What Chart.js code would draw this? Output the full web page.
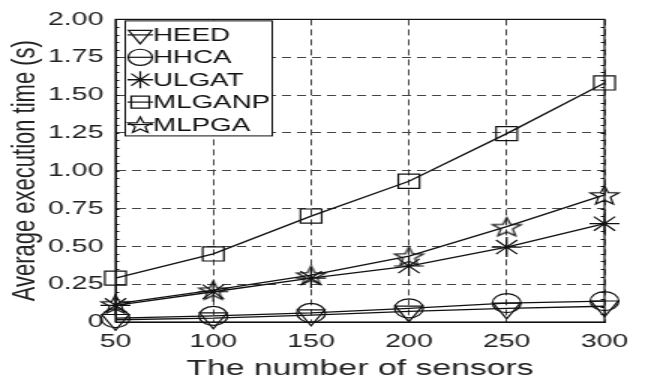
<!DOCTYPE html>
<html>
<head>
<meta charset="utf-8">
<script src="https://cdn.jsdelivr.net/npm/chart.js@4.4.1/dist/chart.umd.min.js"></script>
<style>
  html, body { margin: 0; padding: 0; background: #fff; overflow: hidden; }
  #wrap { width: 430px; height: 382px; transform: scaleX(1.5); transform-origin: 0 0; }
</style>
</head>
<body>
<div id="wrap"><canvas id="c" width="430" height="382"></canvas></div>
<script>
// ---- data ----
const sensors = [50, 100, 150, 200, 250, 300];
const heed   = [0.015, 0.025, 0.045, 0.07, 0.09, 0.104];
const hhca   = [0.025, 0.04, 0.06, 0.09, 0.125, 0.138];
const ulgat  = [0.11, 0.20, 0.29, 0.37, 0.495, 0.65];
const mlganp = [0.29, 0.45, 0.70, 0.93, 1.245, 1.58];
const mlpga  = [0.12, 0.21, 0.31, 0.435, 0.63, 0.84];
const seriesNames = ['HEED', 'HHCA', 'ULGAT', 'MLGANP', 'MLPGA'];
const yTicks = [0, 0.25, 0.5, 0.75, 1.0, 1.25, 1.5, 1.75, 2.0];

const FONT = "'Liberation Sans', Arial, Helvetica, sans-serif";
const INK = '#111';

function starImage(r, lw) {
  const s = Math.ceil(2 * r + 4);
  const c = document.createElement('canvas');
  c.width = s; c.height = s;
  const g = c.getContext('2d');
  g.strokeStyle = INK; g.lineWidth = lw; g.lineJoin = 'miter';
  g.beginPath();
  for (let i = 0; i < 10; i++) {
    const a = -Math.PI / 2 + i * Math.PI / 5;
    const rr = (i % 2) ? r * 0.42 : r;
    const x = s / 2 + Math.cos(a) * rr, y = s / 2 + 1 + Math.sin(a) * rr;
    if (i === 0) g.moveTo(x, y); else g.lineTo(x, y);
  }
  g.closePath(); g.stroke();
  return c;
}
const starPlot = starImage(10, 1.2);
const starLegend = starImage(8.5, 1.2);

const styles = [
  { pointStyle: 'triangle', rotation: 180, radius: 10.5 },
  { pointStyle: 'circle', rotation: 0, radius: 9.5 },
  { pointStyle: 'star', rotation: 0, radius: 10 },
  { pointStyle: 'rect', rotation: 0, radius: 10 },
  { pointStyle: starPlot, rotation: 0, radius: 10 }
];
const seriesData = [heed, hhca, ulgat, mlganp, mlpga];

const datasets = seriesData.map((d, i) => ({
  label: seriesNames[i],
  data: d,
  borderColor: INK,
  borderWidth: 1.3,
  backgroundColor: 'rgba(0,0,0,0)',
  pointStyle: styles[i].pointStyle,
  pointRotation: styles[i].rotation,
  pointRadius: styles[i].radius,
  pointHoverRadius: styles[i].radius,
  pointBorderColor: INK,
  pointBackgroundColor: 'rgba(0,0,0,0)',
  pointBorderWidth: 1.2,
  tension: 0,
  fill: false,
  clip: false
}));

// frame, minor ticks and legend
const decor = {
  id: 'decor',
  afterDraw(chart) {
    const { ctx, chartArea: a, scales } = chart;
    const ys = scales.y;
    ctx.save();
    ctx.strokeStyle = INK; ctx.lineWidth = 1.2; ctx.setLineDash([]);
    ctx.strokeRect(a.left, a.top, a.right - a.left, a.bottom - a.top);
    ctx.lineWidth = 1;
    ctx.beginPath();
    for (let k = 0; k <= 40; k++) {
      const v = k * 0.05;
      const py = Math.round(ys.getPixelForValue(v)) + 0.5;
      ctx.moveTo(a.left, py); ctx.lineTo(a.left + 2.5, py);
      ctx.moveTo(a.right, py); ctx.lineTo(a.right - 2.5, py);
    }
    ctx.stroke();
    // legend
    const bx = a.left + 6, by = a.top + 1, bw = 98, bh = 115;
    ctx.fillStyle = '#fff';
    ctx.fillRect(bx, by, bw, bh);
    ctx.strokeStyle = INK; ctx.lineWidth = 1;
    ctx.strokeRect(bx + 0.5, by + 0.5, bw, bh);
    ctx.font = '18.5px ' + FONT;
    ctx.textBaseline = 'middle';
    ctx.textAlign = 'left';
    const mx = bx + 10.5;
    for (let i = 0; i < seriesNames.length; i++) {
      const cy = by + 14.5 + i * 22.4;
      ctx.strokeStyle = INK; ctx.lineWidth = 1.2;
      ctx.beginPath(); ctx.moveTo(mx - 8.5, cy); ctx.lineTo(mx + 8.5, cy); ctx.stroke();
      drawMarker(ctx, i, mx, cy, 0.85);
      ctx.fillStyle = INK;
      ctx.fillText(seriesNames[i], bx + 19, cy + 1);
    }
    ctx.restore();
  }
};

function drawMarker(ctx, i, x, y, f) {
  const r = styles[i].radius * f;
  ctx.save();
  ctx.strokeStyle = INK; ctx.lineWidth = 1.2;
  ctx.beginPath();
  if (i === 0) {
    ctx.moveTo(x, y + r);
    ctx.lineTo(x - r * Math.sqrt(3) / 2, y - r / 2);
    ctx.lineTo(x + r * Math.sqrt(3) / 2, y - r / 2);
    ctx.closePath();
    ctx.stroke();
  } else if (i === 1) {
    ctx.arc(x, y, r, 0, Math.PI * 2); ctx.stroke();
  } else if (i === 2) {
    const d = r * Math.SQRT1_2;
    ctx.moveTo(x, y - r); ctx.lineTo(x, y + r);
    ctx.moveTo(x - r, y); ctx.lineTo(x + r, y);
    ctx.moveTo(x - d, y - d); ctx.lineTo(x + d, y + d);
    ctx.moveTo(x - d, y + d); ctx.lineTo(x + d, y - d);
    ctx.stroke();
  } else if (i === 3) {
    const s = r * Math.SQRT1_2;
    ctx.rect(x - s, y - s, 2 * s, 2 * s); ctx.stroke();
  } else {
    ctx.drawImage(starLegend, x - starLegend.width / 2, y - starLegend.height / 2);
  }
  ctx.restore();
}

new Chart(document.getElementById('c'), {
  type: 'line',
  data: { labels: sensors, datasets },
  options: {
    responsive: false,
    animation: false,
    devicePixelRatio: 1,
    layout: { padding: { top: 14, right: 27, left: 0, bottom: 0 } },
    plugins: { legend: { display: false }, tooltip: { enabled: false } },
    scales: {
      x: {
        type: 'category',
        offset: false,
        afterFit(s) { s.height = 60; },
        grid: { color: '#444', lineWidth: 1, drawTicks: false },
        border: { display: true, color: INK, dash: [6, 4] },
        ticks: { color: '#222', font: { family: FONT, size: 19 }, padding: 8, maxRotation: 0, autoSkip: false },
        title: { display: true, text: 'The number of sensors', color: '#222',
                 font: { family: FONT, size: 22.5 }, padding: { top: 0, bottom: 0 } }
      },
      y: {
        min: 0, max: 2,
        afterFit(s) { s.width = 77; },
        afterBuildTicks(s) { s.ticks = yTicks.map(v => ({ value: v })); },
        grid: { color: '#444', lineWidth: 1, drawTicks: false },
        border: { display: true, color: INK, dash: [6, 4] },
        ticks: {
          color: '#222', font: { family: FONT, size: 19 }, padding: 8,
          callback: v => (v === 0 ? '0' : Number(v).toFixed(2))
        },
        title: { display: true, text: 'Average execution time (s)', color: '#222',
                 font: { family: FONT, size: 22 }, padding: { top: 4, bottom: 0 } }
      }
    }
  },
  plugins: [decor]
});
</script>
</body>
</html>
